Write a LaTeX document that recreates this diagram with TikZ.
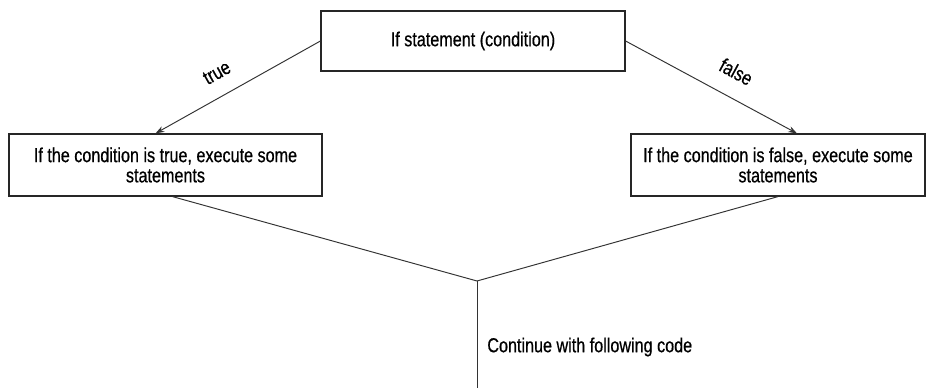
\documentclass[tikz,border=0pt]{standalone}
\usepackage{fontspec}
\setmainfont[FakeStretch=0.80, FakeBold=0.6]{Liberation Sans}
\usetikzlibrary{calc}
\usetikzlibrary{arrows.meta}

\tikzset{
  stmt/.style={draw=black!85, line width=0.7pt, align=center, inner sep=0pt,
    font=\fontsize{11.5}{11.5}\selectfont},
  flow/.style={draw=black!80, line width=0.55pt},
  lbl/.style={inner sep=0pt, font=\fontsize{11.5}{11.5}\selectfont}
}

\begin{document}
\begin{tikzpicture}[x=0.02cm, y=-0.02cm]

\useasboundingbox (0,0) rectangle (930,388);

\node[stmt, minimum width=6.08cm, minimum height=1.2cm] (ifnode) at (473,41) {If statement (condition)};
\node[stmt, minimum width=6.26cm, minimum height=1.24cm] (truebox) at (165.5,165)
  {If the condition is true, execute some\\statements};
\node[stmt, minimum width=5.88cm, minimum height=1.24cm] (falsebox) at (778,165)
  {If the condition is false, execute some\\statements};

\coordinate (join) at (477,281);
\coordinate (endpt) at (477,388);

\draw[flow, -{Stealth[length=5pt,width=3.5pt]}] (ifnode.west) -- ($(truebox.north)+(-10,0)$)
  node[lbl, sloped, above=9pt, pos=0.56] {true};
\draw[flow, -{Stealth[length=5pt,width=3.5pt]}] (ifnode.east) -- ($(falsebox.north)+(19,0)$)
  node[lbl, sloped, above=10pt, pos=0.575] {false};

\draw[flow] ($(truebox.south)+(7,0)$) -- (join);
\draw[flow] (falsebox.south) -- (join);
\draw[flow] (join) -- (endpt);

\node[lbl, anchor=west] (contnode) at (487,347) {Continue with following code};
\end{tikzpicture}
\end{document}
